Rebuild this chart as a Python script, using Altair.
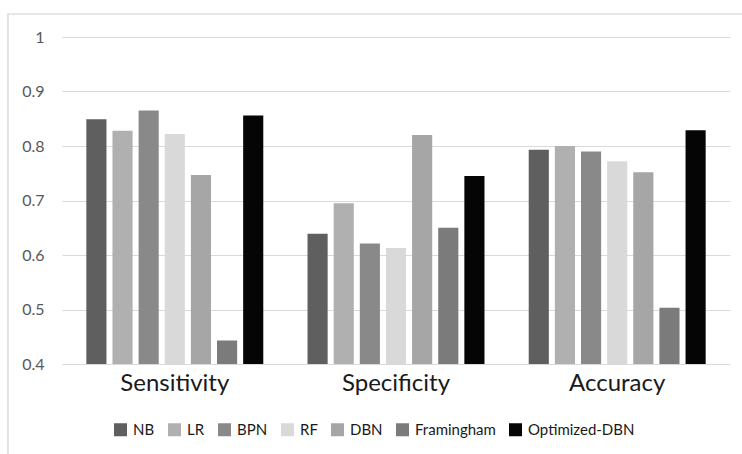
import altair as alt
import pandas as pd

metrics = ["Sensitivity", "Specificity", "Accuracy"]
models = ["NB", "LR", "BPN", "RF", "DBN", "Framingham", "Optimized-DBN"]
sensitivity = [0.849, 0.828, 0.865, 0.822, 0.747, 0.443, 0.856]
specificity = [0.639, 0.695, 0.621, 0.613, 0.820, 0.650, 0.745]
accuracy = [0.793, 0.800, 0.790, 0.772, 0.752, 0.503, 0.829]
colors = ["#5f5f5f", "#b0b0b0", "#898989", "#d9d9d9", "#a6a6a6", "#7b7b7b", "#050505"]
y_ticks = [0.4, 0.5, 0.6, 0.7, 0.8, 0.9, 1.0]

rows = []
for metric, vals in zip(metrics, [sensitivity, specificity, accuracy]):
    for m, v in zip(models, vals):
        rows.append({"metric": metric, "model": m, "value": v})
df = pd.DataFrame(rows)

FONT = "Lato"

bars = alt.Chart(df).mark_bar(clip=True).encode(
    x=alt.X("metric:N", sort=metrics,
            scale=alt.Scale(paddingInner=0.2, paddingOuter=0.11),
            axis=alt.Axis(title=None, labelAngle=0, domain=False, ticks=False,
                          labelFontSize=24, labelColor="#1a1a1a", labelPadding=7,
                          labelFont=FONT, grid=False)),
    xOffset=alt.XOffset("model:N", sort=models,
                        scale=alt.Scale(paddingInner=0.23, paddingOuter=0)),
    y=alt.Y("value:Q",
            scale=alt.Scale(domain=[0.4, 1.0], zero=False, nice=False),
            axis=alt.Axis(title=None, values=y_ticks, format="~g", domain=False,
                          ticks=False, labelFontSize=16, labelColor="#595959",
                          labelPadding=18, labelFont=FONT, gridColor="#d9d9d9",
                          gridWidth=1)),
    color=alt.Color("model:N", sort=models,
                    scale=alt.Scale(domain=models, range=colors),
                    legend=alt.Legend(title=None, orient="none", direction="horizontal",
                                      legendX=51, legendY=385, symbolType="square",
                                      symbolSize=169, symbolStrokeWidth=0,
                                      labelFontSize=15, labelFont=FONT,
                                      labelColor="#1a1a1a", labelOffset=5,
                                      columnPadding=12)),
)

frame = alt.Chart(alt.Data(values=[{"a": 1}])).mark_rect(
    fill=None, stroke="#dedede", strokeWidth=1.7
).encode(
    x=alt.value(-54), x2=alt.value(700),
    y=alt.value(-23), y2=alt.value(440),
)

chart = alt.layer(frame, bars).properties(
    width=668, height=327,
    autosize=alt.AutoSizeParams(type="none"),
    padding={"left": 62, "top": 37, "right": 12, "bottom": 90},
    background="white",
).configure_view(stroke=None)

chart.save("out.html", embed_options={"renderer": "svg", "actions": False})
